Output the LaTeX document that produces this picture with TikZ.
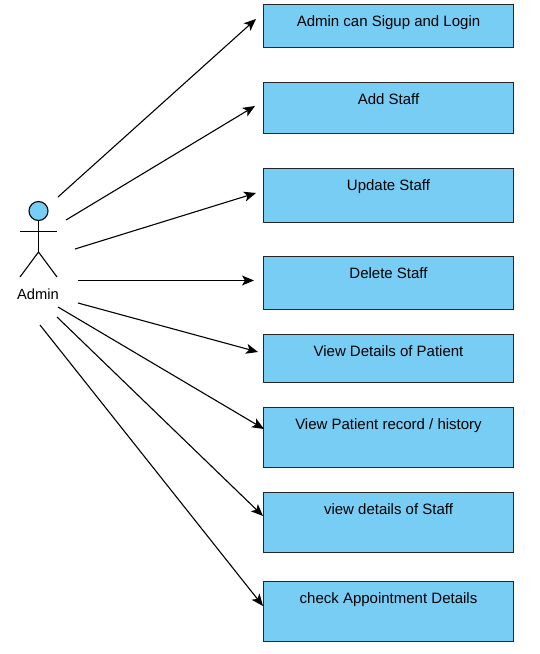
\documentclass[tikz,border=0pt]{standalone}
\usepackage{fontspec}
\setmainfont{Liberation Sans}
\usetikzlibrary{arrows.meta}
\tikzset{
  usecase/.style={draw=black!85, line width=1pt, fill=boxblue, anchor=north west, inner sep=0pt, outer sep=0pt,
    minimum width=250pt, text height=22pt, font=\fontsize{15}{17}\selectfont},
  actorline/.style={draw=black, line width=1.1pt},
  link/.style={draw=black, line width=1.1pt, -{Stealth[length=12pt,width=10pt,inset=3pt]}},
  actorlabel/.style={inner sep=0pt, font=\fontsize{14.7}{17}\selectfont}
}
\definecolor{boxblue}{HTML}{78CDF5}
\begin{document}
\begin{tikzpicture}[x=1pt,y=-1pt]
\useasboundingbox (0,0) rectangle (539,654);
\node[usecase, text depth=21pt] (b1) at (263.5,4) {Admin can Sigup and Login};
\node[usecase, text depth=29pt] (b2) at (263.5,82) {Add Staff};
\node[usecase, text depth=32pt] (b3) at (263.5,168) {Update Staff};
\node[usecase, text depth=31pt] (b4) at (263.5,256) {Delete Staff};
\node[usecase, text depth=26pt] (b5) at (263.5,334) {View Details of Patient};
\node[usecase, text depth=38pt] (b6) at (263.5,407) {View Patient record / history};
\node[usecase, text depth=38pt] (b7) at (263.5,492) {view details of Staff};
\node[usecase, text depth=38pt] (b8) at (263.5,581) {check Appointment Details};
% actor
\node[circle, draw=black, line width=1.1pt, fill=boxblue, minimum size=19pt, inner sep=0pt] (head) at (38.5,211) {};
\coordinate (hip) at (38.5,252);
\coordinate (armL) at (20,231.5);
\coordinate (armR) at (57,231.5);
\coordinate (legL) at (20,277);
\coordinate (legR) at (57,277);
\draw[actorline] (head.south) -- (hip);
\draw[actorline] (armL) -- (armR);
\draw[actorline] (legL) -- (hip) -- (legR);
\node[actorlabel] (admin) at (38,294) {Admin};
% links
\coordinate (s1) at (58,197);  \coordinate (e1) at (256,19);
\coordinate (s2) at (66,220);  \coordinate (e2) at (255,106);
\coordinate (s3) at (75,249);  \coordinate (e3) at (256,193);
\coordinate (s4) at (78,280.5);  \coordinate (e4) at (254,280.5);
\coordinate (s5) at (78,303);  \coordinate (e5) at (258,352);
\coordinate (s6) at (58,307);  \coordinate (e6) at (264,429);
\coordinate (s7) at (57,317);  \coordinate (e7) at (263,516);
\coordinate (s8) at (40,325);  \coordinate (e8) at (263,606);
\foreach \i in {1,...,8} {\draw[link] (s\i) -- (e\i);}
\end{tikzpicture}
\end{document}
